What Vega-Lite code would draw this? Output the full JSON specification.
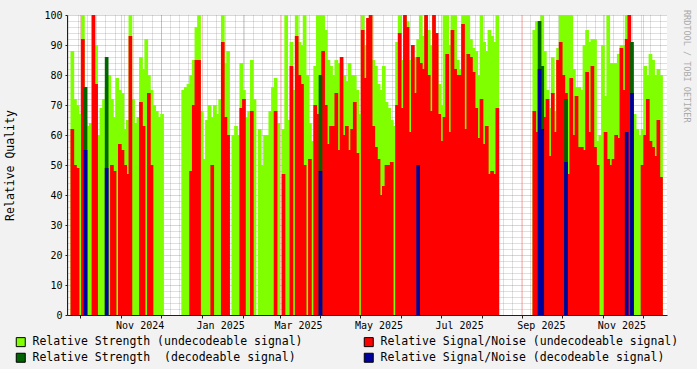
{
  "$schema": "https://vega.github.io/schema/vega-lite/v6.json",
  "width": 600,
  "height": 300,
  "autosize": {"type": "none"},
  "padding": {"left": 67, "top": 15, "right": 30, "bottom": 54},
  "background": "#f2f2f2",
  "title": {"text": "RRDTOOL / TOBI OETIKER", "orient": "right", "anchor": "start", "font": "DejaVu Sans Mono", "fontSize": 8.5, "fontWeight": "normal", "color": "#aaaaaa", "offset": 3},
  "config": {
    "view": {"fill": "white", "stroke": null},
    "axis": {"labelFont": "DejaVu Sans Mono", "labelFontSize": 10, "labelColor": "black", "titleFont": "DejaVu Sans Mono", "titleFontSize": 11.5, "titleFontWeight": "normal", "titleColor": "black", "domainColor": "#1f1f1f", "tickColor": "#1f1f1f", "zindex": 1},
    "legend": {"orient": "none", "legendX": -52, "legendY": 321, "columns": 2, "direction": "horizontal", "padding": 0, "symbolType": "square", "symbolSize": 81, "symbolStrokeColor": "black", "symbolStrokeWidth": 1, "symbolOpacity": 1, "labelFont": "DejaVu Sans Mono", "labelFontSize": 11.5, "labelColor": "black", "labelLimit": 400, "labelOffset": 6, "columnPadding": 59, "rowPadding": 2, "title": null}
  },
  "data": {"values": [
    {"t": "2024-09-25", "g": 88, "r": 62},
    {"t": "2024-09-27", "g": 72, "r": 50},
    {"t": "2024-09-29", "g": 70, "r": 49},
    {"t": "2024-10-01", "g": 67},
    {"t": "2024-10-03", "g": 100, "r": 92},
    {"t": "2024-10-05", "g": 65, "dg": 76, "b": 55},
    {"t": "2024-10-07", "g": 63},
    {"t": "2024-10-09", "g": 64},
    {"t": "2024-10-11", "g": 100, "r": 100},
    {"t": "2024-10-13", "g": 90, "r": 77},
    {"t": "2024-10-15", "g": 60},
    {"t": "2024-10-17", "g": 69},
    {"t": "2024-10-19", "g": 72},
    {"t": "2024-10-21", "g": 76, "dg": 86, "b": 49},
    {"t": "2024-10-23", "g": 80},
    {"t": "2024-10-25", "g": 72, "r": 50},
    {"t": "2024-10-27", "g": 66, "r": 48},
    {"t": "2024-10-29", "g": 79},
    {"t": "2024-10-31", "g": 75, "r": 57},
    {"t": "2024-11-02", "g": 74, "r": 55},
    {"t": "2024-11-04", "g": 62, "r": 50},
    {"t": "2024-11-06", "g": 65, "r": 47},
    {"t": "2024-11-08", "g": 100, "r": 93},
    {"t": "2024-11-10", "g": 72},
    {"t": "2024-11-12", "g": 64},
    {"t": "2024-11-14", "g": 66},
    {"t": "2024-11-16", "g": 86, "r": 71},
    {"t": "2024-11-18", "g": 82, "r": 63},
    {"t": "2024-11-20", "g": 92},
    {"t": "2024-11-22", "g": 80, "r": 74},
    {"t": "2024-11-24", "g": 75, "r": 50},
    {"t": "2024-11-26", "g": 70},
    {"t": "2024-11-28", "g": 68},
    {"t": "2024-11-30", "g": 66},
    {"t": "2024-12-02", "g": 67},
    {"t": "2024-12-18", "g": 75},
    {"t": "2024-12-20", "g": 76},
    {"t": "2024-12-22", "g": 77},
    {"t": "2024-12-24", "g": 80, "r": 48},
    {"t": "2024-12-26", "g": 85, "r": 70},
    {"t": "2024-12-28", "g": 96, "r": 85},
    {"t": "2024-12-30", "g": 100, "r": 85},
    {"t": "2025-01-01", "g": 68},
    {"t": "2025-01-03", "g": 52},
    {"t": "2025-01-05", "g": 65},
    {"t": "2025-01-07", "g": 70},
    {"t": "2025-01-09", "g": 66, "r": 50},
    {"t": "2025-01-11", "g": 70},
    {"t": "2025-01-13", "g": 67},
    {"t": "2025-01-15", "g": 72},
    {"t": "2025-01-17", "g": 100, "r": 91},
    {"t": "2025-01-19", "g": 84, "r": 66},
    {"t": "2025-01-21", "g": 88, "r": 60},
    {"t": "2025-01-25", "g": 60},
    {"t": "2025-01-27", "g": 63},
    {"t": "2025-01-29", "g": 60},
    {"t": "2025-01-31", "g": 84, "r": 69},
    {"t": "2025-02-02", "g": 75, "r": 72},
    {"t": "2025-02-04", "g": 66},
    {"t": "2025-02-06", "g": 68},
    {"t": "2025-02-08", "g": 85, "r": 68},
    {"t": "2025-02-10", "g": 72},
    {"t": "2025-02-14", "g": 62},
    {"t": "2025-02-16", "g": 50},
    {"t": "2025-02-18", "g": 60},
    {"t": "2025-02-20", "g": 60},
    {"t": "2025-02-22", "g": 68},
    {"t": "2025-02-24", "g": 76},
    {"t": "2025-02-26", "g": 79, "r": 68},
    {"t": "2025-02-28", "g": 64},
    {"t": "2025-03-04", "g": 62, "r": 47},
    {"t": "2025-03-06", "g": 100},
    {"t": "2025-03-08", "g": 65},
    {"t": "2025-03-10", "g": 91, "r": 83},
    {"t": "2025-03-12", "g": 75},
    {"t": "2025-03-14", "g": 100, "r": 93},
    {"t": "2025-03-16", "g": 91, "r": 80},
    {"t": "2025-03-18", "g": 90, "r": 77},
    {"t": "2025-03-20", "g": 100, "r": 50},
    {"t": "2025-03-22", "g": 80},
    {"t": "2025-03-24", "g": 64, "r": 52},
    {"t": "2025-03-26", "g": 58},
    {"t": "2025-03-28", "g": 83, "r": 70},
    {"t": "2025-03-30", "g": 100, "r": 67},
    {"t": "2025-04-01", "g": 100, "r": 66, "dg": 80, "b": 48},
    {"t": "2025-04-03", "g": 100, "r": 88},
    {"t": "2025-04-05", "g": 95, "r": 70},
    {"t": "2025-04-07", "g": 85, "r": 57},
    {"t": "2025-04-09", "g": 83, "r": 63},
    {"t": "2025-04-11", "g": 80, "r": 63},
    {"t": "2025-04-13", "g": 85, "r": 74},
    {"t": "2025-04-15", "g": 84, "r": 55},
    {"t": "2025-04-17", "g": 84, "r": 86},
    {"t": "2025-04-19", "g": 80, "r": 60},
    {"t": "2025-04-21", "g": 78, "r": 63},
    {"t": "2025-04-23", "g": 84, "r": 55},
    {"t": "2025-04-25", "g": 80, "r": 62},
    {"t": "2025-04-27", "g": 80, "r": 71},
    {"t": "2025-04-29", "g": 75, "r": 54},
    {"t": "2025-05-01", "g": 67},
    {"t": "2025-05-03", "g": 100, "r": 95},
    {"t": "2025-05-05", "g": 90, "r": 79},
    {"t": "2025-05-07", "g": 88, "r": 99},
    {"t": "2025-05-09", "g": 100, "r": 100},
    {"t": "2025-05-11", "g": 85, "r": 63},
    {"t": "2025-05-13", "g": 83, "r": 56},
    {"t": "2025-05-15", "g": 77, "r": 52},
    {"t": "2025-05-17", "g": 75, "r": 40},
    {"t": "2025-05-19", "g": 83, "r": 43},
    {"t": "2025-05-21", "g": 71, "r": 50},
    {"t": "2025-05-23", "g": 69, "r": 50},
    {"t": "2025-05-25", "g": 65, "r": 51},
    {"t": "2025-05-27", "g": 63},
    {"t": "2025-05-29", "g": 91, "r": 70},
    {"t": "2025-05-31", "g": 100, "r": 94},
    {"t": "2025-06-02", "g": 85, "r": 69},
    {"t": "2025-06-04", "g": 100, "r": 100},
    {"t": "2025-06-06", "g": 98, "r": 96},
    {"t": "2025-06-08", "g": 85, "r": 61},
    {"t": "2025-06-10", "g": 82, "r": 90},
    {"t": "2025-06-12", "g": 86, "r": 74},
    {"t": "2025-06-14", "g": 92, "r": 86, "b": 50},
    {"t": "2025-06-16", "g": 100, "r": 84},
    {"t": "2025-06-18", "g": 93, "r": 82},
    {"t": "2025-06-20", "g": 100, "r": 100},
    {"t": "2025-06-22", "g": 95, "r": 80},
    {"t": "2025-06-24", "g": 90, "r": 68},
    {"t": "2025-06-26", "g": 100, "r": 100},
    {"t": "2025-06-28", "g": 90, "r": 94},
    {"t": "2025-06-30", "g": 77, "r": 67},
    {"t": "2025-07-02", "g": 70, "r": 58},
    {"t": "2025-07-04", "g": 100, "r": 66},
    {"t": "2025-07-06", "g": 100, "r": 87},
    {"t": "2025-07-08", "g": 90, "r": 61},
    {"t": "2025-07-10", "g": 100, "r": 95},
    {"t": "2025-07-12", "g": 100, "r": 82},
    {"t": "2025-07-14", "g": 85, "r": 80},
    {"t": "2025-07-16", "g": 82, "r": 80},
    {"t": "2025-07-18", "g": 100, "r": 97},
    {"t": "2025-07-20", "g": 100, "r": 62},
    {"t": "2025-07-22", "g": 100, "r": 87},
    {"t": "2025-07-24", "g": 92, "r": 86},
    {"t": "2025-07-26", "g": 89, "r": 81},
    {"t": "2025-07-28", "g": 88, "r": 69},
    {"t": "2025-07-30", "g": 80, "r": 59},
    {"t": "2025-08-01", "g": 100, "r": 72},
    {"t": "2025-08-03", "g": 91, "r": 57},
    {"t": "2025-08-05", "g": 88, "r": 63},
    {"t": "2025-08-07", "g": 95, "r": 47},
    {"t": "2025-08-09", "g": 93, "r": 48},
    {"t": "2025-08-11", "g": 91, "r": 47},
    {"t": "2025-08-13", "g": 100, "r": 69},
    {"t": "2025-09-10", "g": 95, "r": 68},
    {"t": "2025-09-12", "g": 98, "r": 61},
    {"t": "2025-09-14", "g": 90, "dg": 98, "b": 82},
    {"t": "2025-09-16", "g": 100, "r": 57, "dg": 83, "b": 62},
    {"t": "2025-09-18", "g": 88, "r": 66},
    {"t": "2025-09-20", "g": 75, "r": 72},
    {"t": "2025-09-22", "g": 69, "r": 53},
    {"t": "2025-09-24", "g": 86, "r": 74},
    {"t": "2025-09-26", "g": 68, "r": 61},
    {"t": "2025-09-28", "g": 89, "r": 85},
    {"t": "2025-09-30", "g": 100, "r": 91},
    {"t": "2025-10-02", "g": 100, "r": 80},
    {"t": "2025-10-04", "g": 100, "r": 74, "dg": 72, "b": 51},
    {"t": "2025-10-06", "g": 100, "r": 47},
    {"t": "2025-10-08", "g": 100, "r": 79},
    {"t": "2025-10-10", "g": 82, "r": 60},
    {"t": "2025-10-12", "g": 76, "r": 73},
    {"t": "2025-10-14", "g": 76, "r": 56},
    {"t": "2025-10-16", "g": 75, "r": 56},
    {"t": "2025-10-18", "g": 90, "r": 55},
    {"t": "2025-10-20", "g": 95, "r": 81},
    {"t": "2025-10-22", "g": 91, "r": 61},
    {"t": "2025-10-24", "g": 92, "r": 83},
    {"t": "2025-10-26", "g": 92, "r": 56},
    {"t": "2025-10-28", "g": 58, "r": 50},
    {"t": "2025-10-30", "g": 60},
    {"t": "2025-11-01", "g": 90},
    {"t": "2025-11-03", "g": 73, "r": 61},
    {"t": "2025-11-05", "g": 100, "r": 52},
    {"t": "2025-11-07", "g": 84, "r": 50},
    {"t": "2025-11-09", "g": 84, "r": 52},
    {"t": "2025-11-11", "g": 84, "r": 60},
    {"t": "2025-11-13", "g": 87, "r": 59},
    {"t": "2025-11-15", "g": 90, "r": 89},
    {"t": "2025-11-17", "g": 90, "r": 75},
    {"t": "2025-11-19", "g": 100, "r": 92, "b": 61},
    {"t": "2025-11-21", "g": 100, "r": 100},
    {"t": "2025-11-23", "g": 90, "dg": 91, "b": 74},
    {"t": "2025-11-25", "g": 67},
    {"t": "2025-11-27", "g": 62},
    {"t": "2025-11-29", "g": 60},
    {"t": "2025-12-01", "g": 62, "r": 50},
    {"t": "2025-12-03", "g": 83, "r": 60},
    {"t": "2025-12-05", "g": 80, "r": 72},
    {"t": "2025-12-07", "g": 87, "r": 58},
    {"t": "2025-12-09", "g": 85, "r": 56},
    {"t": "2025-12-11", "g": 80, "r": 53},
    {"t": "2025-12-13", "g": 82, "r": 65},
    {"t": "2025-12-15", "g": 80, "r": 46}
  ]},
  "encoding": {
    "x": {"field": "t", "type": "temporal", "scale": {"type": "utc", "domain": [{"year": 2024, "month": 9, "date": 24, "hours": 18, "utc": true}, {"year": 2025, "month": 12, "date": 15, "hours": 18, "utc": true}]}}
  },
  "layer": [
    {
      "mark": {"type": "bar", "size": 3.7, "clip": true},
      "encoding": {
        "x": {"field": "t", "type": "temporal", "axis": {"orient": "bottom", "tickCount": {"interval": "week", "step": 1}, "grid": true, "gridColor": "#8f8f8f", "gridOpacity": 0.55, "gridDash": [1, 1], "labels": false, "ticks": false, "domain": false, "title": null}},
        "y": {"field": "g", "type": "quantitative", "stack": null, "scale": {"domain": [0, 100], "nice": false}, "axis": {"orient": "left", "values": [2,4,6,8,12,14,16,18,22,24,26,28,32,34,36,38,42,44,46,48,52,54,56,58,62,64,66,68,72,74,76,78,82,84,86,88,92,94,96,98], "grid": true, "gridColor": "#8f8f8f", "gridOpacity": 0.55, "gridDash": [1, 1], "labels": false, "ticks": false, "domain": false, "title": null}},
        "color": {"datum": "Relative Strength (undecodeable signal)", "scale": {"domain": ["Relative Strength (undecodeable signal)", "Relative Signal/Noise (undecodeable signal)", "Relative Strength\u00a0 (decodeable signal)", "Relative Signal/Noise (decodeable signal)"], "range": ["#80ff00", "#ff0000", "#006400", "#00009c"]}}
      }
    },
    {
      "mark": {"type": "bar", "size": 3.7, "clip": true},
      "encoding": {
        "x": {"field": "t", "type": "temporal", "axis": {"orient": "bottom", "tickCount": {"interval": "month", "step": 1}, "grid": true, "gridColor": "#de4f4f", "gridOpacity": 0.6, "gridDash": [1, 1], "labels": false, "ticks": true, "tickSize": 3, "domain": true, "title": null}},
        "y": {"field": "r", "type": "quantitative", "stack": null, "axis": {"orient": "left", "values": [0,10,20,30,40,50,60,70,80,90,100], "grid": true, "gridColor": "#de4f4f", "gridOpacity": 0.6, "gridDash": [1, 1], "tickSize": 2, "labelPadding": 3, "domain": true, "title": "Relative Quality", "titlePadding": 28}},
        "color": {"datum": "Relative Signal/Noise (undecodeable signal)"}
      }
    },
    {
      "mark": {"type": "bar", "size": 3.7, "clip": true},
      "encoding": {
        "x": {"field": "t", "type": "temporal", "axis": {"orient": "bottom", "values": [{"year": 2024, "month": 11, "date": 15, "utc": true}, {"year": 2025, "month": 1, "date": 15, "utc": true}, {"year": 2025, "month": 3, "date": 15, "utc": true}, {"year": 2025, "month": 5, "date": 15, "utc": true}, {"year": 2025, "month": 7, "date": 15, "utc": true}, {"year": 2025, "month": 9, "date": 15, "utc": true}, {"year": 2025, "month": 11, "date": 15, "utc": true}], "format": "%b %Y", "grid": false, "ticks": false, "domain": false, "labelPadding": 5, "labelFlush": false, "labelOverlap": false, "labelBound": false, "title": null}},
        "y": {"field": "dg", "type": "quantitative", "stack": null, "axis": null},
        "color": {"datum": "Relative Strength\u00a0 (decodeable signal)"}
      }
    },
    {
      "mark": {"type": "bar", "size": 3.7, "clip": true},
      "encoding": {
        "x": {"field": "t", "type": "temporal", "axis": null},
        "y": {"field": "b", "type": "quantitative", "stack": null, "axis": null},
        "color": {"datum": "Relative Signal/Noise (decodeable signal)"}
      }
    }
  ],
  "resolve": {"axis": {"x": "independent", "y": "independent"}}
}
